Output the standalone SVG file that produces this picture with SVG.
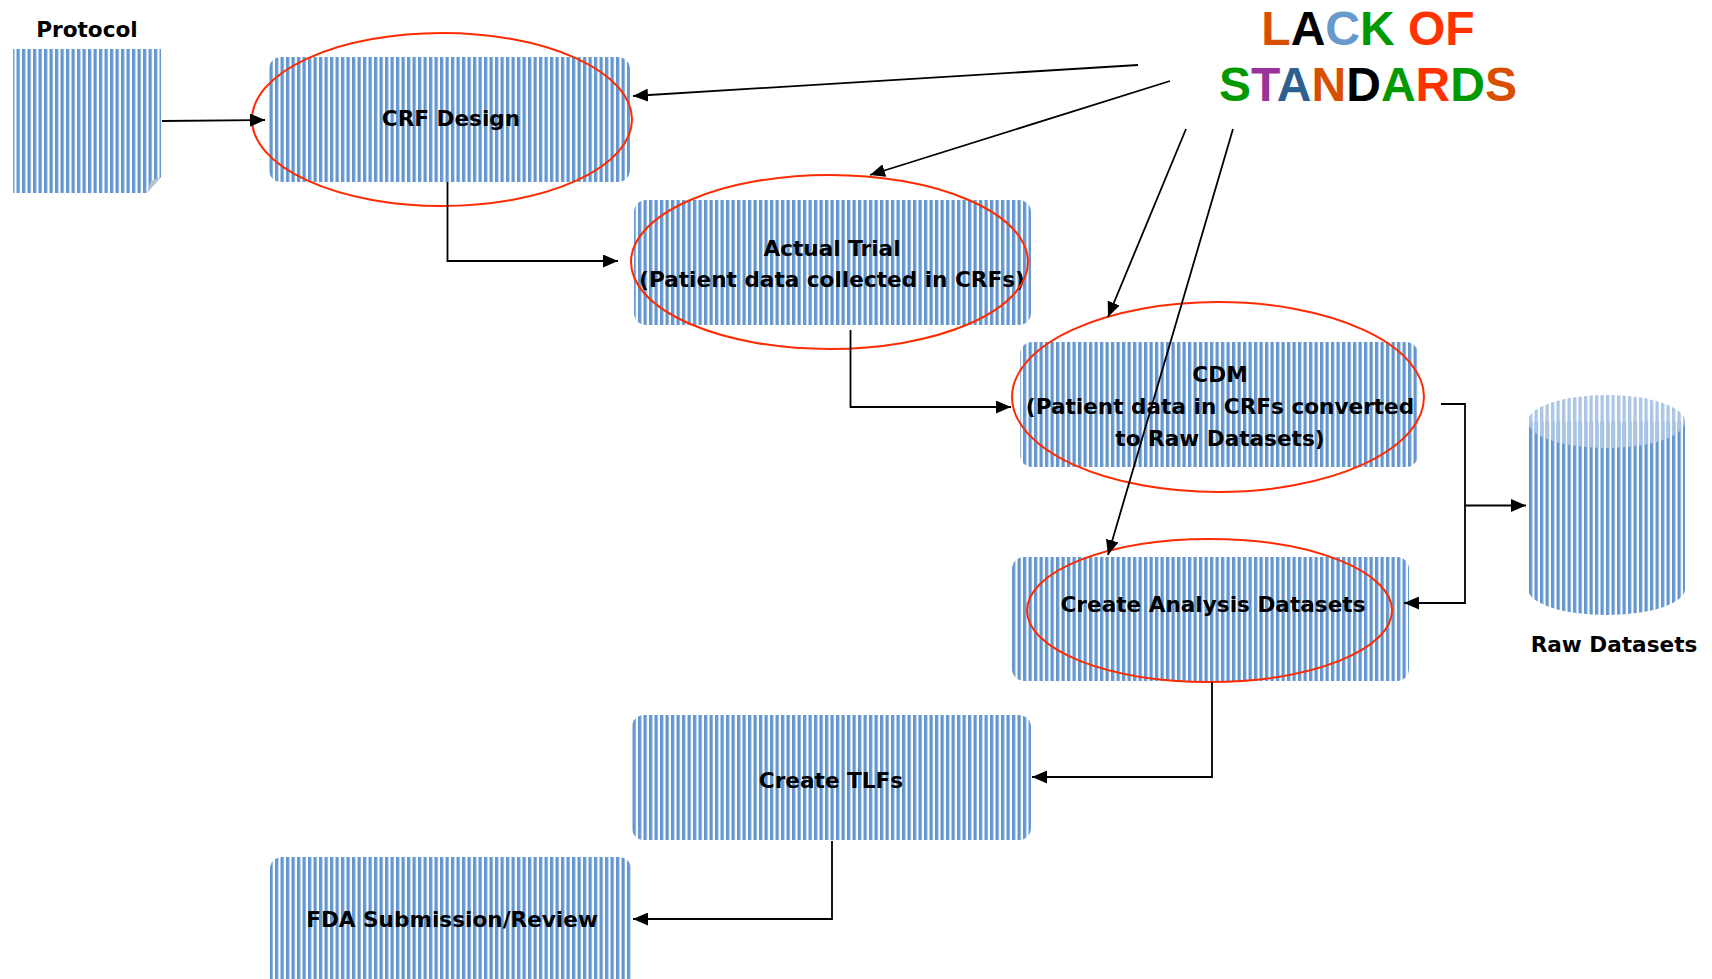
<svg xmlns="http://www.w3.org/2000/svg" width="1712" height="979" viewBox="0 0 1712 979">
  <defs>
    <pattern id="stripes" width="5.5" height="20" patternUnits="userSpaceOnUse">
      <rect x="0" y="0" width="3.3" height="20" fill="#6497cf"/>
    </pattern>
    <pattern id="stripesLight" width="5.5" height="20" patternUnits="userSpaceOnUse">
      <rect x="0" y="0" width="3.3" height="20" fill="#aac5e5"/>
    </pattern>
    <marker id="arrow" markerUnits="userSpaceOnUse" markerWidth="15" markerHeight="13" refX="15" refY="6.5" orient="auto">
      <path d="M0,0 L15,6.5 L0,13 Z" fill="#000"/>
    </marker>
    <style>
      .box { fill: url(#stripes); }
      .label { font-family: "DejaVu Sans", "Liberation Sans", sans-serif; font-weight: bold; font-size: 21.6px; fill: #000; text-anchor: middle; }
      .ring { fill: none; stroke: #ff2a00; stroke-width: 2; }
      .wire { fill: none; stroke: #000; stroke-width: 1.8; marker-end: url(#arrow); }
      .title { font-family: "Liberation Sans", Arial, sans-serif; font-weight: bold; font-size: 48px; text-anchor: middle; }
    </style>
  </defs>
  <rect width="1712" height="979" fill="#fff"/>

  <!-- Protocol document with curled corner -->
  <g id="protocol">
    <path class="box" d="M13,49 H161 V177 L147,193 H13 Z"/>
    <path d="M161,177 L147,193 L151,181 Z" fill="#b9c3cf"/>
    <text class="label" x="87" y="37">Protocol</text>
  </g>

  <g id="crf-design">
    <rect class="box" x="269" y="57" width="361" height="125" rx="12"/>
    <text class="label" x="451" y="126">CRF Design</text>
  </g>

  <g id="actual-trial">
    <rect class="box" x="634" y="200" width="397" height="125" rx="12"/>
    <text class="label" x="832" y="256">Actual Trial</text>
    <text class="label" x="832" y="287">(Patient data collected in CRFs)</text>
  </g>

  <g id="cdm">
    <rect class="box" x="1020" y="342" width="398" height="125" rx="12"/>
    <text class="label" x="1220" y="382">CDM</text>
    <text class="label" x="1220" y="414">(Patient data in CRFs converted</text>
    <text class="label" x="1220" y="446">to Raw Datasets)</text>
  </g>

  <g id="raw-datasets">
    <path class="box" d="M1528,421.5 V589 A78.5,26 0 0 0 1685,589 V421.5 Z"/>
    <ellipse cx="1606.5" cy="421.5" rx="78.5" ry="26.5" fill="url(#stripesLight)"/>
    <text class="label" x="1614" y="652">Raw Datasets</text>
  </g>

  <g id="analysis-datasets">
    <rect class="box" x="1012" y="557" width="397" height="124" rx="12"/>
    <text class="label" x="1213" y="612">Create Analysis Datasets</text>
  </g>

  <g id="create-tlfs">
    <rect class="box" x="632" y="715" width="399" height="125" rx="12"/>
    <text class="label" x="831" y="788">Create TLFs</text>
  </g>

  <g id="fda-review">
    <rect class="box" x="270" y="857" width="361" height="150" rx="12"/>
    <text class="label" x="452" y="927">FDA Submission/Review</text>
  </g>

  <!-- red rings marking the steps hit by missing standards -->
  <g id="highlights">
    <ellipse class="ring" cx="442" cy="119.5" rx="190" ry="86.5"/>
    <ellipse class="ring" cx="829.5" cy="262" rx="198.5" ry="87"/>
    <ellipse class="ring" cx="1218" cy="397" rx="206" ry="95"/>
    <ellipse class="ring" cx="1209.5" cy="610.5" rx="182.5" ry="71.5"/>
  </g>

  <g id="lack-of-standards">
    <text class="title" x="1368" y="45"><tspan fill="#d94f00">L</tspan><tspan fill="#000">A</tspan><tspan fill="#6699cc">C</tspan><tspan fill="#009900">K</tspan><tspan fill="#ff3300"> OF</tspan></text>
    <text class="title" x="1368" y="101"><tspan fill="#009900">S</tspan><tspan fill="#993399">T</tspan><tspan fill="#2e5f91">A</tspan><tspan fill="#d94f00">N</tspan><tspan fill="#000">D</tspan><tspan fill="#009900">A</tspan><tspan fill="#ff3300">R</tspan><tspan fill="#009900">D</tspan><tspan fill="#d94f00">S</tspan></text>
  </g>

  <g id="connectors">
    <path class="wire" d="M162,121 L265,120"/>
    <path class="wire" d="M447.5,182 V261 H618"/>
    <path class="wire" d="M850.5,330 V407 H1011"/>
    <path class="wire" d="M1441,404 H1465 V603 H1404"/>
    <path class="wire" d="M1465,505.5 H1526"/>
    <path class="wire" d="M1212,682 V777 H1032"/>
    <path class="wire" d="M832,841 V919 H633"/>
    <path class="wire" d="M1138,65 L633,96"/>
    <path class="wire" d="M1170,81 L870,175"/>
    <path class="wire" d="M1186,129 L1108,317"/>
    <path class="wire" d="M1233,129 L1108,555"/>
  </g>
</svg>
